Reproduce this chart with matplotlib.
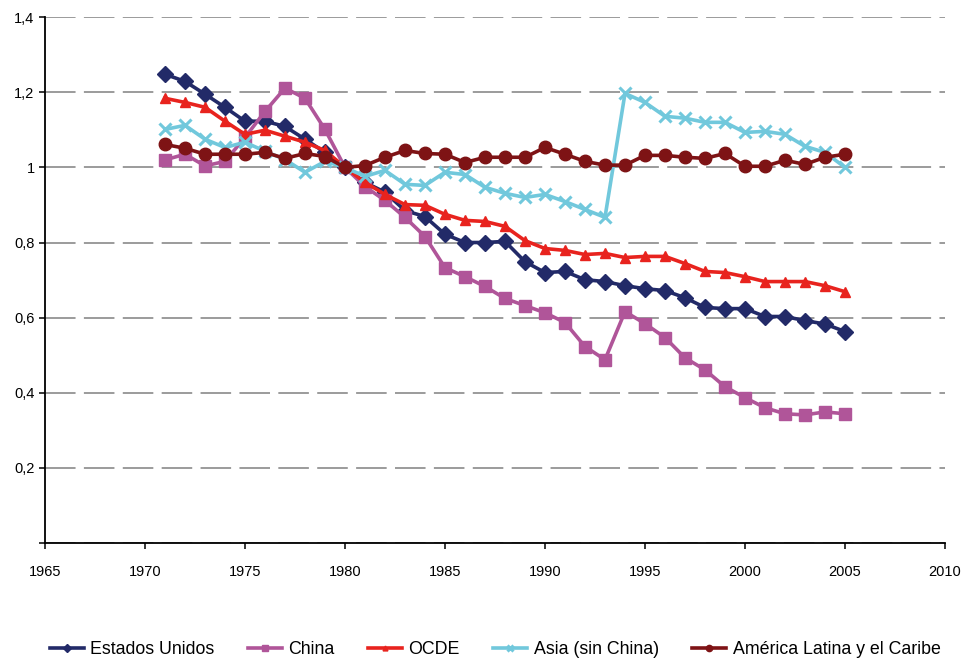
import matplotlib.pyplot as plt

plt.rcParams['font.family'] = ['Liberation Sans', 'DejaVu Sans']
plt.rcParams['lines.scale_dashes'] = False

years = list(range(1971, 2006))

estados_unidos = [1.248, 1.229, 1.195, 1.160, 1.123, 1.123, 1.109, 1.075, 1.040, 1.000,
                  0.960, 0.934, 0.885, 0.869, 0.822, 0.800, 0.800, 0.803, 0.749, 0.720,
                  0.723, 0.701, 0.696, 0.685, 0.677, 0.672, 0.653, 0.627, 0.624, 0.624,
                  0.603, 0.603, 0.592, 0.583, 0.563]
china = [1.020, 1.035, 1.004, 1.016, 1.080, 1.149, 1.211, 1.184, 1.101, 1.000,
         0.949, 0.912, 0.867, 0.816, 0.733, 0.709, 0.683, 0.651, 0.632, 0.613,
         0.587, 0.523, 0.488, 0.616, 0.584, 0.547, 0.493, 0.461, 0.416, 0.387,
         0.360, 0.344, 0.341, 0.349, 0.344]
ocde = [1.184, 1.173, 1.160, 1.123, 1.088, 1.099, 1.083, 1.067, 1.045, 1.000,
        0.960, 0.928, 0.901, 0.899, 0.875, 0.859, 0.856, 0.843, 0.805, 0.784,
        0.779, 0.768, 0.771, 0.760, 0.763, 0.763, 0.744, 0.723, 0.720, 0.709,
        0.696, 0.696, 0.696, 0.685, 0.669]
asia = [1.101, 1.112, 1.075, 1.053, 1.067, 1.043, 1.021, 0.987, 1.016, 1.000,
        0.976, 0.992, 0.955, 0.952, 0.987, 0.981, 0.947, 0.931, 0.920, 0.928,
        0.909, 0.888, 0.867, 1.197, 1.173, 1.136, 1.131, 1.120, 1.120, 1.093,
        1.096, 1.088, 1.056, 1.040, 1.000]
america_latina = [1.061, 1.051, 1.035, 1.035, 1.035, 1.040, 1.024, 1.037, 1.029, 1.000,
                  1.005, 1.027, 1.045, 1.037, 1.035, 1.013, 1.027, 1.027, 1.027, 1.053,
                  1.035, 1.016, 1.006, 1.006, 1.032, 1.032, 1.027, 1.024, 1.037, 1.003,
                  1.003, 1.019, 1.008, 1.027, 1.035]

fig = plt.figure(figsize=(9.63, 6.6), dpi=100)
ax = fig.add_axes([0.0467, 0.1773, 0.9346, 0.7967])

ax.plot(years, estados_unidos, color='#222A68', lw=2.6, marker='D', ms=8, label='Estados Unidos')
ax.plot(years, china, color='#B05599', lw=2.6, marker='s', ms=8.5, label='China')
ax.plot(years, ocde, color='#E8231E', lw=2.6, marker='^', ms=7, label='OCDE')
ax.plot(years, asia, color='#71C8DC', lw=2.6, marker='x', ms=9, mew=2.2, label='Asia (sin China)')
ax.plot(years, america_latina, color='#7E1315', lw=2.6, marker='o', ms=9, label='América Latina y el Caribe')

ax.set_xlim(1965, 2010)
ax.set_ylim(0, 1.4)
ax.set_xticks(range(1965, 2011, 5))
ax.set_yticks([0, 0.2, 0.4, 0.6, 0.8, 1.0, 1.2, 1.4])
ax.set_yticklabels(['', '0,2', '0,4', '0,6', '0,8', '1', '1,2', '1,4'])
ax.yaxis.grid(True, color='#808080', lw=1.1, linestyle=(0, (22, 6)))
ax.set_axisbelow(True)

for s in ['top', 'right']:
    ax.spines[s].set_visible(False)
ax.spines['left'].set_linewidth(1.3)
ax.spines['bottom'].set_linewidth(1.3)
ax.tick_params(axis='both', labelsize=10.5, length=4, width=1.1, direction='out')
ax.tick_params(axis='x', pad=12)

ax.legend(loc='center', bbox_to_anchor=(0.5, -0.203), ncol=5, frameon=False,
          fontsize=12.8, markerscale=0.5, handlelength=1.95, columnspacing=1.85, handletextpad=0.35)

fig.savefig('out.png', dpi=100)
